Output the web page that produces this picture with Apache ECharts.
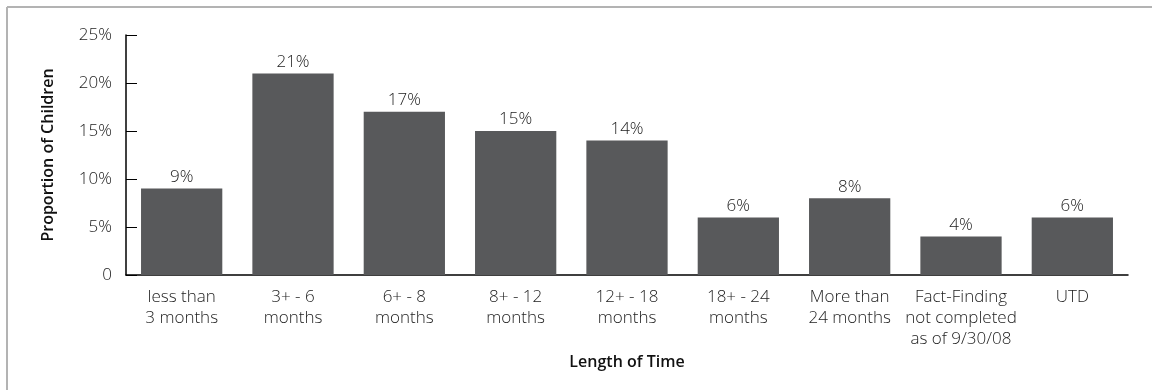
<!DOCTYPE html>
<html>
<head>
<meta charset="utf-8">
<script src="https://cdn.jsdelivr.net/npm/echarts@6/dist/echarts.min.js"></script>
<style>
  html, body { margin: 0; padding: 0; background: #fff; }
  #chart { width: 1152px; height: 390px; }
</style>
</head>
<body>
<div id="chart"></div>
<script>
// Time to fact-finding completion, share of children per duration band
const categories = [
  'less than\n3 months',
  '3+ - 6\nmonths',
  '6+ - 8\nmonths',
  '8+ - 12\nmonths',
  '12+ - 18\nmonths',
  '18+ - 24\nmonths',
  'More than\n24 months',
  'Fact-Finding\nnot completed\nas of 9/30/08',
  'UTD'
];
const proportions = [9, 21, 17, 15, 14, 6, 8, 4, 6];
const yTicks = [0, 5, 10, 15, 20, 25];

const textColor = '#222';
const fontFamily = '"Open Sans", "DejaVu Sans", sans-serif';

const chart = echarts.init(document.getElementById('chart'), null, { renderer: 'canvas' });

chart.setOption({
  animation: false,
  grid: { left: 126, right: 24, top: 35, bottom: 115, containLabel: false },
  graphic: [
    { type: 'line', shape: { x1: 7, y1: 7, x2: 1152, y2: 7 }, style: { stroke: '#b3b3b3', lineWidth: 2 } },
    { type: 'line', shape: { x1: 7, y1: 7, x2: 7, y2: 390 }, style: { stroke: '#b3b3b3', lineWidth: 2 } }
  ],
  xAxis: {
    type: 'category',
    data: categories,
    name: 'Length of Time',
    nameLocation: 'middle',
    nameGap: 68,
    nameTextStyle: { color: '#111', fontSize: 16, fontWeight: 600, fontFamily },
    axisLine: { lineStyle: { color: '#000', width: 1.5 } },
    axisTick: { inside: true, length: 5, lineStyle: { color: '#000' }, alignWithLabel: false },
    axisLabel: {
      color: textColor, fontSize: 17, fontWeight: 300, fontFamily, lineHeight: 21, margin: 12, interval: 0
    }
  },
  yAxis: {
    type: 'value',
    min: yTicks[0],
    max: yTicks[yTicks.length - 1],
    interval: 5,
    name: 'Proportion of Children',
    nameLocation: 'middle',
    nameGap: 70,
    nameRotate: 90,
    nameTextStyle: { color: '#111', fontSize: 16, fontWeight: 600, fontFamily },
    splitLine: { show: false },
    axisLine: { show: true, lineStyle: { color: '#000', width: 1.5 } },
    axisTick: { show: true, inside: true, length: 11, lineStyle: { color: '#000' } },
    axisLabel: {
      color: textColor, fontSize: 17, fontWeight: 300, fontFamily, margin: 14,
      formatter: v => (v === 0 ? '0' : v + '%')
    }
  },
  series: [{
    type: 'bar',
    data: proportions,
    barCategoryGap: '27%',
    itemStyle: { color: '#58595b' },
    label: {
      show: true, position: 'top', distance: 3,
      color: textColor, fontSize: 17, fontWeight: 300, fontFamily,
      formatter: p => p.value + '%'
    }
  }]
});
</script>
</body>
</html>
